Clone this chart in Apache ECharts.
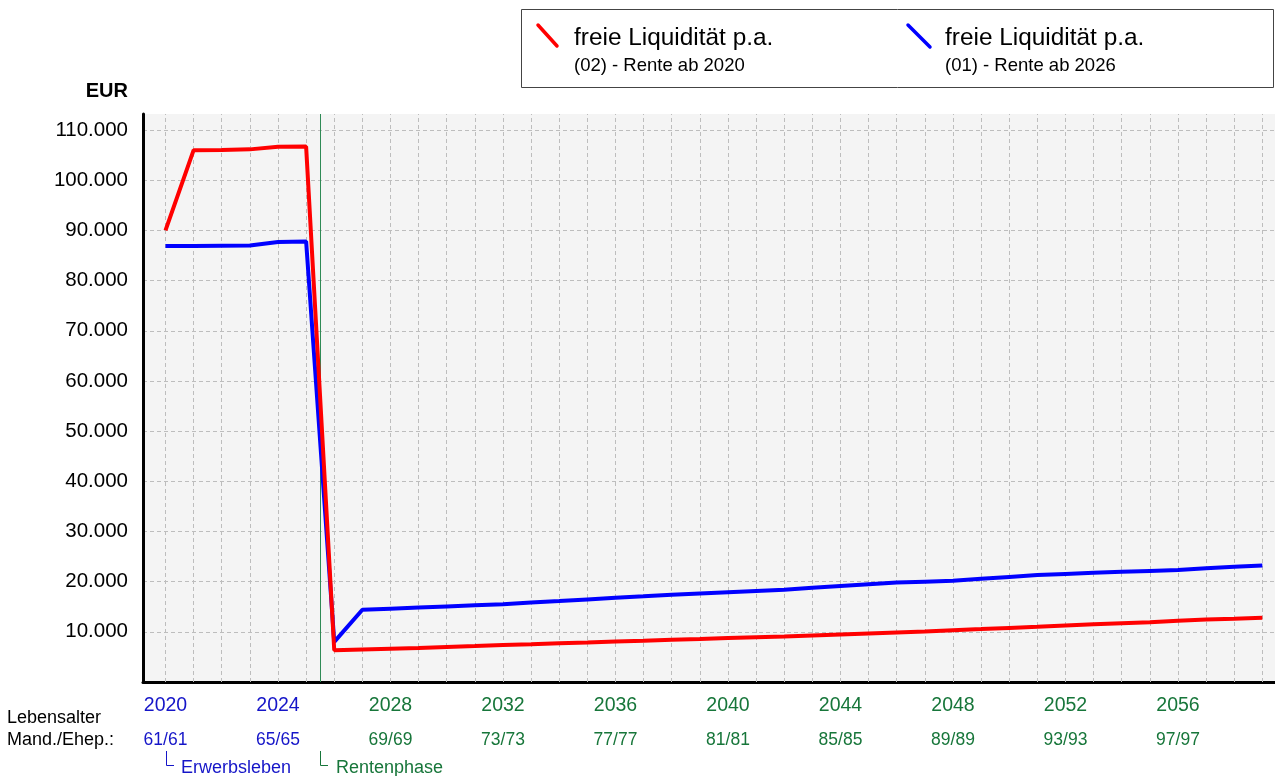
<!DOCTYPE html>
<html>
<head>
<meta charset="utf-8">
<style>
    html,body{
        margin:0;
        padding:0;
        background:#fff;
    }
    #chart{
        width:1275px;
        height:776px;
    }
</style>
</head>
<body>
<div id="chart"></div>
<script src="https://cdn.jsdelivr.net/npm/echarts@6/dist/echarts.min.js"></script>
<script>
var years = [2020,2021,2022,2023,2024,2025,2026,2027,2028,2029,2030,2031,2032,2033,2034,2035,2036,2037,2038,2039,
             2040,2041,2042,2043,2044,2045,2046,2047,2048,2049,2050,2051,2052,2053,2054,2055,2056,2057,2058,2059];
// (02) - Rente ab 2020
var rente2020 = [90000,106000,106050,106150,106650,106700,
                 6350,6500,6650,6800,7000,7150,7350,7500,7700,7850,
                 8050,8200,8400,8550,8750,8900,9060,9250,9450,9650,
                 9850,10050,10330,10550,10780,11000,11250,11500,11730,11920,
                 12200,12460,12620,12790];
// (01) - Rente ab 2026
var rente2026 = [86900,86900,86950,87000,87700,87800,
                 8000,14400,14620,14840,15060,15280,15500,15820,16130,16450,
                 16770,17080,17400,17650,17900,18150,18400,18760,19120,19480,
                 19820,20000,20180,20560,20940,21310,21530,21750,21970,22140,
                 22310,22680,22950,23200];
var yearTicks = [2020,2024,2028,2032,2036,2040,2044,2048,2052,2056];
var ageLabels = ['61/61','65/65','69/69','73/73','77/77','81/81','85/85','89/89','93/93','97/97'];
var rentenStart = 2025.5;

var BLUE_TXT = '#1515c8', GREEN_TXT = '#17763a';

function pair(arr){
    var out = [];
    for (var i = 0; i < years.length; i++) out.push([years[i], arr[i]]);
    return out;
}
function deNum(v){
    return String(v).replace(/\B(?=(\d{3})+(?!\d))/g, '.');
}

var gridLines = [];
for (var i = 0; i < years.length; i++) gridLines.push({xAxis: years[i]});

var myChart = echarts.init(document.getElementById('chart'));
var font = 'Liberation Sans, Arial, sans-serif';

myChart.setOption({
    animation:false,
    textStyle:{fontFamily:font},
    grid:{
        left:143, right:0, top:114, bottom:94,
        show:true, backgroundColor:'#f4f4f4', borderWidth:0
    },
    xAxis:[{
        type:'value', min:2019.2, max:2059.45,
        axisLine:{show:true, onZero:false, lineStyle:{color:'#000', width:3}},
        axisTick:{show:false},
        splitLine:{show:false},
        axisLabel:{
            customValues:yearTicks,
            margin:14,
            formatter:function(v){ return (v < rentenStart ? '{a|' : '{b|') + v + '}'; },
            rich:{
                a:{color:BLUE_TXT, fontSize:19.5, fontFamily:font},
                b:{color:GREEN_TXT, fontSize:19.5, fontFamily:font}
            }
        }
    },{
        type:'value', min:2019.2, max:2059.45, position:'bottom', offset:37,
        axisLine:{show:false},
        axisTick:{show:false},
        splitLine:{show:false},
        axisLabel:{
            customValues:yearTicks,
            margin:12,
            formatter:function(v){
                var k = yearTicks.indexOf(v);
                return (v < rentenStart ? '{a|' : '{b|') + ageLabels[k] + '}';
            },
            rich:{
                a:{color:BLUE_TXT, fontSize:17.5, fontFamily:font},
                b:{color:GREEN_TXT, fontSize:17.5, fontFamily:font}
            }
        }
    }],
    yAxis:{
        type:'value', min:0, max:113200, interval:10000,
        axisLine:{show:true, lineStyle:{color:'#000', width:3}},
        axisTick:{show:false},
        axisLabel:{
            color:'#000', fontSize:20.5, margin:15,
            showMinLabel:false, showMaxLabel:false,
            formatter:deNum
        },
        splitLine:{show:true, showMaxLine:false, lineStyle:{color:'#bdbdbd', type:[4,3], width:1}}
    },
    series:[{
        name:'grid', type:'line', data:[], z:1, silent:true,
        markLine:{
            z:1, silent:true, symbol:'none', label:{show:false},
            lineStyle:{color:'#bdbdbd', type:[4,3], width:1},
            data:gridLines
        }
    },{
        name:'phase', type:'line', data:[], z:1, silent:true,
        markLine:{
            z:2, silent:true, symbol:'none', label:{show:false},
            lineStyle:{color:'#2f8a55', type:'solid', width:1},
            data:[{xAxis:rentenStart}]
        }
    },{
        name:'freie Liquidität p.a. (01) - Rente ab 2026',
        type:'line', data:pair(rente2026), z:3,
        showSymbol:false, lineStyle:{color:'#0000ff', width:4}
    },{
        name:'freie Liquidität p.a. (02) - Rente ab 2020',
        type:'line', data:pair(rente2020), z:4,
        showSymbol:false, lineStyle:{color:'#ff0000', width:4}
    }],
    graphic:[
        // legend box
        {type:'rect', shape:{x:521.5, y:9.5, width:752, height:78}, style:{fill:'#fff', stroke:'#444', lineWidth:1}},
        {type:'line', shape:{x1:538, y1:25, x2:557, y2:46}, style:{stroke:'#ff0000', lineWidth:3.5, lineCap:'round'}},
        {type:'text', x:574, y:38, style:{text:'freie Liquidität p.a.', fontSize:24.4, fontFamily:font, fill:'#000', verticalAlign:'middle'}},
        {type:'text', x:574, y:66, style:{text:'(02) - Rente ab 2020', fontSize:18.5, fontFamily:font, fill:'#000', verticalAlign:'middle'}},
        {type:'line', shape:{x1:908, y1:25, x2:930, y2:47}, style:{stroke:'#0000ff', lineWidth:3.5, lineCap:'round'}},
        {type:'text', x:945, y:38, style:{text:'freie Liquidität p.a.', fontSize:24.4, fontFamily:font, fill:'#000', verticalAlign:'middle'}},
        {type:'text', x:945, y:66, style:{text:'(01) - Rente ab 2026', fontSize:18.5, fontFamily:font, fill:'#000', verticalAlign:'middle'}},
        // axis titles
        {type:'text', x:128, y:91, style:{text:'EUR', fontSize:20, fontWeight:'bold', fontFamily:font, fill:'#000', align:'right', verticalAlign:'middle'}},
        {type:'text', x:7, y:718, style:{text:'Lebensalter', fontSize:18, fontFamily:font, fill:'#000', verticalAlign:'middle'}},
        {type:'text', x:7, y:740, style:{text:'Mand./Ehep.:', fontSize:18, fontFamily:font, fill:'#000', verticalAlign:'middle'}},
        // phases
        {type:'polyline', shape:{points:[[166.5,751],[166.5,765.5],[174,765.5]]}, style:{stroke:BLUE_TXT, lineWidth:1, fill:null}},
        {type:'text', x:181, y:768, style:{text:'Erwerbsleben', fontSize:18, fontFamily:font, fill:BLUE_TXT, verticalAlign:'middle'}},
        {type:'polyline', shape:{points:[[320.5,751],[320.5,765.5],[328,765.5]]}, style:{stroke:GREEN_TXT, lineWidth:1, fill:null}},
        {type:'text', x:336, y:768, style:{text:'Rentenphase', fontSize:18, fontFamily:font, fill:GREEN_TXT, verticalAlign:'middle'}}
    ]
});
</script>
</body>
</html>
